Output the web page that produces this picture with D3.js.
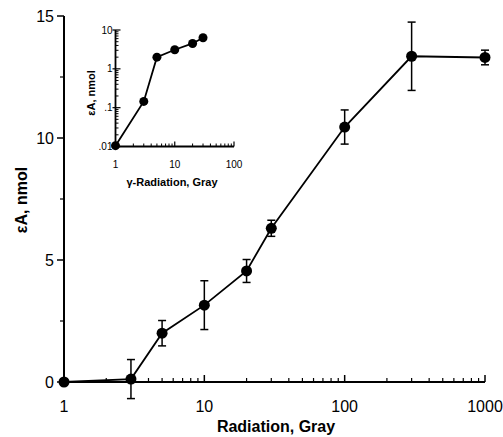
<!DOCTYPE html>
<html>
<head>
<meta charset="utf-8">
<script src="https://cdn.jsdelivr.net/npm/d3@7"></script>
<style>
  body { margin: 0; background: #fff; }
  text { font-family: "Liberation Sans", Arial, sans-serif; fill: #000; }
</style>
</head>
<body>
<div id="chart"></div>
<script>
// main panel data
const doses = [1, 3, 5, 10, 20, 30, 100, 300, 1000];
const amounts = [0, 0.12, 2.0, 3.15, 4.55, 6.3, 10.45, 13.35, 13.3];
const errors = [0, 0.8, 0.52, 1.0, 0.47, 0.33, 0.7, 1.4, 0.3];
const xTicks = [1, 10, 100, 1000];
const yTicks = [0, 5, 10, 15];

// inset data
const insetDoses = [1, 3, 5, 10, 20, 30];
const insetAmounts = [0.0105, 0.145, 2.0, 3.1, 4.5, 6.3];
const insetXTicks = [1, 10, 100];
const insetYTicks = [0.01, 0.1, 1, 10];
const insetYLabels = [".01", ".1", "1", "10"];

const width = 503, height = 437;

const svg = d3.select("#chart")
  .append("svg")
  .attr("width", width)
  .attr("height", height);

const x = d3.scaleLog().domain([1, 1000]).range([64, 485]);
const y = d3.scaleLinear().domain([0, 15]).range([382, 16]);

// minor ticks for log axes
function logMinor(lo, hi) {
  const out = [];
  for (let d = lo; d < hi; d *= 10) {
    for (let k = 2; k <= 9; k++) out.push(d * k);
  }
  return out;
}

// x axis (ticks inside)
const xAxis = svg.append("g").attr("transform", `translate(0,${y(0)})`);
xAxis.append("line")
  .attr("x1", x(1)).attr("x2", x(1000))
  .attr("stroke", "#000").attr("stroke-width", 2);
xAxis.selectAll(".minor")
  .data(logMinor(1, 1000))
  .join("line")
  .attr("x1", d => x(d)).attr("x2", d => x(d))
  .attr("y1", 0).attr("y2", -4)
  .attr("stroke", "#000").attr("stroke-width", 1.2);
xAxis.selectAll(".major")
  .data(xTicks)
  .join("line")
  .attr("x1", d => x(d)).attr("x2", d => x(d))
  .attr("y1", 0).attr("y2", -7)
  .attr("stroke", "#000").attr("stroke-width", 1.5);
xAxis.selectAll("text")
  .data(xTicks)
  .join("text")
  .attr("x", d => x(d))
  .attr("y", 30)
  .attr("text-anchor", "middle")
  .style("font-size", "16px")
  .text(d => d);

// y axis (ticks outside)
const yAxis = svg.append("g").attr("transform", `translate(${x(1)},0)`);
yAxis.append("line")
  .attr("y1", y(0)).attr("y2", y(15))
  .attr("stroke", "#000").attr("stroke-width", 2);
yAxis.selectAll(".major")
  .data(yTicks)
  .join("line")
  .attr("x1", 0).attr("x2", -7)
  .attr("y1", d => y(d)).attr("y2", d => y(d))
  .attr("stroke", "#000").attr("stroke-width", 1.5);
yAxis.selectAll(".minor")
  .data([2.5, 7.5, 12.5])
  .join("line")
  .attr("x1", 0).attr("x2", -4)
  .attr("y1", d => y(d)).attr("y2", d => y(d))
  .attr("stroke", "#000").attr("stroke-width", 1.2);
yAxis.selectAll("text")
  .data(yTicks)
  .join("text")
  .attr("x", -10)
  .attr("y", d => y(d))
  .attr("dy", "0.36em")
  .attr("text-anchor", "end")
  .style("font-size", "16px")
  .text(d => d);

// axis titles
svg.append("text")
  .attr("x", 276).attr("y", 432)
  .attr("text-anchor", "middle")
  .style("font-size", "16px").style("font-weight", "bold")
  .text("Radiation, Gray");

svg.append("text")
  .attr("transform", "translate(27,200) rotate(-90)")
  .attr("text-anchor", "middle")
  .style("font-size", "16px").style("font-weight", "bold")
  .text("εA, nmol");

// error bars
const errG = svg.append("g");
doses.forEach((d, i) => {
  if (errors[i] <= 0) return;
  const cx = x(d), top = y(amounts[i] + errors[i]), bot = y(amounts[i] - errors[i]);
  errG.append("line").attr("x1", cx).attr("x2", cx).attr("y1", top).attr("y2", bot)
    .attr("stroke", "#000").attr("stroke-width", 1.5);
  [top, bot].forEach(v => {
    errG.append("line").attr("x1", cx - 4).attr("x2", cx + 4).attr("y1", v).attr("y2", v)
      .attr("stroke", "#000").attr("stroke-width", 1.5);
  });
});

const line = d3.line()
  .x(d => x(d[0]))
  .y(d => y(d[1]));

svg.append("path")
  .datum(doses.map((d, i) => [d, amounts[i]]))
  .attr("d", line)
  .attr("fill", "none")
  .attr("stroke", "#000")
  .attr("stroke-width", 1.8);

svg.append("g")
  .selectAll("circle")
  .data(doses.map((d, i) => [d, amounts[i]]))
  .join("circle")
  .attr("cx", d => x(d[0]))
  .attr("cy", d => y(d[1]))
  .attr("r", 5.5)
  .attr("fill", "#000");

// ---- inset ----
const ix = d3.scaleLog().domain([1, 100]).range([115.5, 234]);
const iy = d3.scaleLog().domain([0.01, 10]).range([146.5, 30]);

const inset = svg.append("g");
inset.append("line")
  .attr("x1", ix(1)).attr("x2", ix(100))
  .attr("y1", iy(0.01)).attr("y2", iy(0.01))
  .attr("stroke", "#000").attr("stroke-width", 1.8);
inset.append("line")
  .attr("x1", ix(1)).attr("x2", ix(1))
  .attr("y1", iy(0.01)).attr("y2", iy(10))
  .attr("stroke", "#000").attr("stroke-width", 1.8);

inset.selectAll(".xminor")
  .data(logMinor(1, 100))
  .join("line")
  .attr("x1", d => ix(d)).attr("x2", d => ix(d))
  .attr("y1", iy(0.01)).attr("y2", iy(0.01) - 3)
  .attr("stroke", "#000").attr("stroke-width", 1);
inset.selectAll(".xmajor")
  .data(insetXTicks)
  .join("line")
  .attr("x1", d => ix(d)).attr("x2", d => ix(d))
  .attr("y1", iy(0.01)).attr("y2", iy(0.01) - 5)
  .attr("stroke", "#000").attr("stroke-width", 1.2);
inset.selectAll(".yminor")
  .data(logMinor(0.01, 10))
  .join("line")
  .attr("x1", ix(1)).attr("x2", ix(1) + 3)
  .attr("y1", d => iy(d)).attr("y2", d => iy(d))
  .attr("stroke", "#000").attr("stroke-width", 1);
inset.selectAll(".ymajor")
  .data(insetYTicks)
  .join("line")
  .attr("x1", ix(1) - 3).attr("x2", ix(1) + 5)
  .attr("y1", d => iy(d)).attr("y2", d => iy(d))
  .attr("stroke", "#000").attr("stroke-width", 1.2);

inset.selectAll(".xlab")
  .data(insetXTicks)
  .join("text")
  .attr("x", d => ix(d))
  .attr("y", iy(0.01) + 21)
  .attr("text-anchor", "middle")
  .style("font-size", "10px")
  .text(d => d);
inset.selectAll(".ylab")
  .data(insetYTicks)
  .join("text")
  .attr("x", ix(1) - 3)
  .attr("y", d => iy(d))
  .attr("dy", "0.36em")
  .attr("text-anchor", "end")
  .style("font-size", "10px")
  .text((d, i) => insetYLabels[i]);

inset.append("text")
  .attr("x", 172).attr("y", 186)
  .attr("text-anchor", "middle")
  .style("font-size", "11px").style("font-weight", "bold")
  .text("γ-Radiation, Gray");
inset.append("text")
  .attr("transform", "translate(95,93) rotate(-90)")
  .attr("text-anchor", "middle")
  .style("font-size", "11px").style("font-weight", "bold")
  .text("εA, nmol");

const iline = d3.line()
  .x(d => ix(d[0]))
  .y(d => iy(d[1]));
inset.append("path")
  .datum(insetDoses.map((d, i) => [d, insetAmounts[i]]))
  .attr("d", iline)
  .attr("fill", "none")
  .attr("stroke", "#000")
  .attr("stroke-width", 1.8);
inset.selectAll("circle")
  .data(insetDoses.map((d, i) => [d, insetAmounts[i]]))
  .join("circle")
  .attr("cx", d => ix(d[0]))
  .attr("cy", d => iy(d[1]))
  .attr("r", 4.5)
  .attr("fill", "#000");
</script>
</body>
</html>
